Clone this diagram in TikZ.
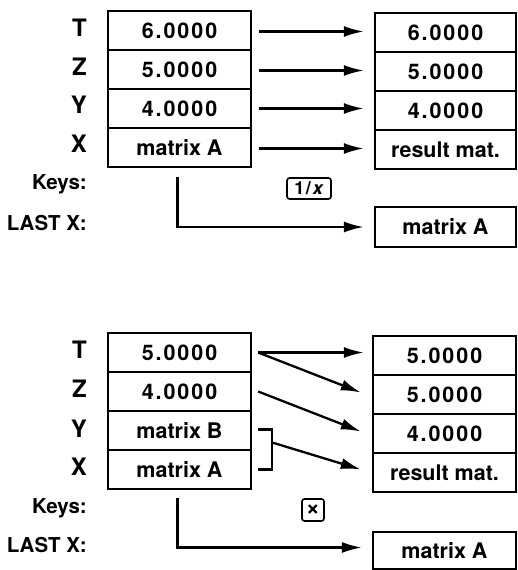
\documentclass[tikz,border=0pt]{standalone}
\usepackage{fontspec}
\setmainfont{TeX Gyre Heros}
\usetikzlibrary{arrows.meta,calc}
\newcommand\dig[1]{{\addfontfeatures{LetterSpace=9}#1}}
\begin{document}
\begin{tikzpicture}[x=1pt,y=-1pt,
 cell/.style={draw,line width=2.3pt,minimum height=39pt,inner sep=0pt,font=\bfseries\fontsize{21.5}{21.5}\selectfont},
 lcell/.style={cell,minimum width=143pt},
 rcell/.style={cell,minimum width=141pt},
 reg/.style={anchor=base east,inner sep=0pt,font=\bfseries\fontsize{24}{24}\selectfont},
 side/.style={anchor=base east,inner sep=0pt,font=\bfseries\fontsize{20.5}{21}\selectfont},
 key/.style={draw,line width=1.6pt,rounded corners=2.5pt,inner sep=0pt,font=\bfseries\fontsize{18}{18}\selectfont},
 arr/.style={line width=2.3pt,-{Latex[length=20pt,width=11pt]}},
 con/.style={line width=2.3pt}]
\useasboundingbox (0,0) rectangle (517,570);

% ---------- top panel ----------
\node[reg] (tT) at (87,36.7) {T};
\node[reg] (tZ) at (87,75) {Z};
\node[reg] (tY) at (87,113) {Y};
\node[reg] (tX) at (87,152.7) {X};
\node[side] (tK) at (87,189) {Keys:};
\node[side] (tL) at (87,230.7) {LAST X:};

\node[lcell] (l1) at (179.5,30.5) {\dig{6.0000}};
\node[lcell] (l2) at (179.5,69.5) {\dig{5.0000}};
\node[lcell] (l3) at (179.5,108.5) {\dig{4.0000}};
\node[lcell] (l4) at (179.5,147.5) {matrix A};

\node[rcell] (r1) at (445.5,32.5) {\dig{6.0000}};
\node[rcell] (r2) at (445.5,71.5) {\dig{5.0000}};
\node[rcell] (r3) at (445.5,110.5) {\dig{4.0000}};
\node[rcell] (r4) at (445.5,149.5) {result mat.};
\node[rcell,minimum height=40pt] (lx) at (445.5,227) {matrix A};

\node[key,minimum width=44pt,minimum height=21pt] (k1) at (309,188.5) {1\hspace{1.5pt}/\hspace{2pt}\textit{x}};

\draw[arr] ($(l1.east)+(7,1)$) -- ($(r1.west)+(-10,-1)$);
\draw[arr] ($(l2.east)+(7,1)$) -- ($(r2.west)+(-10,-1)$);
\draw[arr] ($(l3.east)+(7,0)$) -- ($(r3.west)+(-10,-2)$);
\draw[arr] ($(l4.east)+(7,1)$) -- ($(r4.west)+(-10,-1)$);
\draw[arr] ($(l4.south)+(-2,9)$) |- ($(lx.west)+(-10,0)$);

% ---------- bottom panel ----------
\node[reg] (bT) at (87,358) {T};
\node[reg] (bZ) at (87,397) {Z};
\node[reg] (bY) at (87,437) {Y};
\node[reg] (bX) at (87,475) {X};
\node[side] (bK) at (87,513) {Keys:};
\node[side] (bL) at (87,552) {LAST X:};

\node[lcell] (b1) at (179.5,352.5) {\dig{5.0000}};
\node[lcell] (b2) at (179.5,391.5) {\dig{4.0000}};
\node[lcell] (b3) at (179.5,430.5) {matrix B};
\node[lcell] (b4) at (179.5,469.5) {matrix A};

\node[rcell,minimum width=143pt] (c1) at (444.5,355.5) {\dig{5.0000}};
\node[rcell,minimum width=143pt] (c2) at (444.5,394.5) {\dig{5.0000}};
\node[rcell,minimum width=143pt] (c3) at (444.5,433.5) {\dig{4.0000}};
\node[rcell,minimum width=143pt] (c4) at (444.5,472.5) {result mat.};
\node[rcell,minimum width=143pt,minimum height=37pt] (cx) at (444.5,550.5) {matrix A};

\node[key,minimum width=22pt,minimum height=22pt,font=\bfseries\fontsize{24}{24}\selectfont] (k2) at (313,510) {×};

\draw[arr] ($(b1.east)+(6,0)$) -- ($(c1.west)+(-8,-3)$);
\draw[arr] ($(b1.east)+(6,0)$) -- ($(c2.west)+(-11,-2)$);
\draw[arr] ($(b2.east)+(6,0)$) -- ($(c3.west)+(-11,-2)$);
\draw[con] ($(b3.east)+(6,-1)$) -- ++(14,0) |- ($(b4.east)+(6,0)$);
\coordinate (bk) at ($(b3.east)+(20,12)$);
\draw[arr] (bk) -- ($(c4.west)+(-11,-3)$);
\draw[arr] ($(b4.south)+(-2,8)$) |- ($(cx.west)+(-10,-3)$);
\end{tikzpicture}
\end{document}
